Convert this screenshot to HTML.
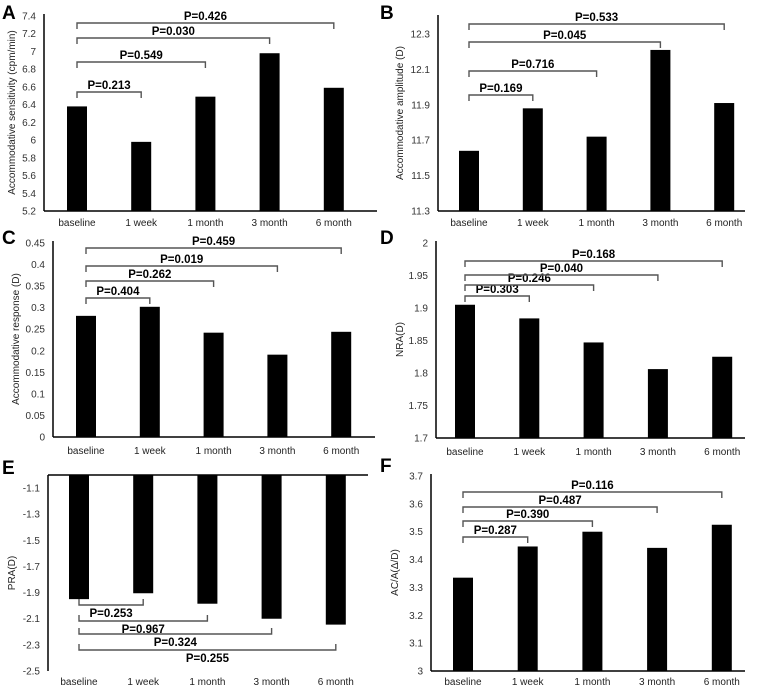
<!DOCTYPE html>
<html><head><meta charset="utf-8"><style>
html,body{margin:0;padding:0;background:#fff;}
svg{display:block;font-family:"Liberation Sans",sans-serif;}
</style></head><body>
<svg id="fig" width="757" height="688" viewBox="0 0 757 688" xmlns="http://www.w3.org/2000/svg"></svg>
<script>
const categories = ["baseline","1 week","1 month","3 month","6 month"];
const valuesA = [6.38, 5.98, 6.49, 6.98, 6.59];
const valuesB = [11.64, 11.88, 11.72, 12.21, 11.91];
const valuesC = [0.281, 0.302, 0.242, 0.191, 0.244];
const valuesD = [1.905, 1.884, 1.847, 1.806, 1.825];
const valuesE = [-1.95, -1.905, -1.985, -2.10, -2.145];
const valuesF = [3.335, 3.447, 3.50, 3.442, 3.525];
const ticksA = ["7.4","7.2","7","6.8","6.6","6.4","6.2","6","5.8","5.6","5.4","5.2"];
const ticksB = ["12.3","12.1","11.9","11.7","11.5","11.3"];
const ticksC = ["0.45","0.4","0.35","0.3","0.25","0.2","0.15","0.1","0.05","0"];
const ticksD = ["2","1.95","1.9","1.85","1.8","1.75","1.7"];
const ticksE = ["-1.1","-1.3","-1.5","-1.7","-1.9","-2.1","-2.3","-2.5"];
const ticksF = ["3.7","3.6","3.5","3.4","3.3","3.2","3.1","3"];
const pA = ["P=0.213","P=0.549","P=0.030","P=0.426"];
const pB = ["P=0.169","P=0.716","P=0.045","P=0.533"];
const pC = ["P=0.404","P=0.262","P=0.019","P=0.459"];
const pD = ["P=0.303","P=0.246","P=0.040","P=0.168"];
const pE = ["P=0.253","P=0.967","P=0.324","P=0.255"];
const pF = ["P=0.287","P=0.390","P=0.487","P=0.116"];

const NS="http://www.w3.org/2000/svg";
const svg=document.getElementById('fig');
function mk(tag,attrs,parent){const e=document.createElementNS(NS,tag);for(const k in attrs)e.setAttribute(k,attrs[k]);(parent||svg).appendChild(e);return e;}

function drawPanel(cfg){
  const g=mk('g',{});
  
  
  const y=v=>cfg.y1+(v-cfg.v1)*(cfg.y0-cfg.y1)/(cfg.v0-cfg.v1);
  const xs=categories.map((c,i)=>cfg.x0+i*cfg.dx);
  const L=mk('text',{x:cfg.lx,y:cfg.ly,'font-size':19,'font-weight':'bold',fill:'#000'},g);L.textContent=cfg.letter;
  
  
  cfg.ticks.forEach(t=>{
    const tt=mk('text',{x:cfg.ax-8,y:y(parseFloat(t))+3.5,'font-size':10,'text-anchor':'end',fill:'#333'},g);tt.textContent=t;
    
    
  });
  const base=cfg.inv?cfg.top:cfg.bottom;
  cfg.values.forEach((v,i)=>{
    const yv=y(v);
    const r=mk('rect',{x:xs[i]-10,y:Math.min(yv,base),width:20,height:Math.abs(base-yv),fill:'#000'},g);
    
    
  });
  const ya=mk('line',{x1:cfg.ax,x2:cfg.ax,y1:cfg.top,y2:cfg.bottom,stroke:'#000','stroke-width':1.5},g);
  
  
  const xa=mk('line',{x1:cfg.ax,x2:cfg.right,y1:base,y2:base,stroke:'#000','stroke-width':1.5},g);
  
  
  categories.forEach((c,i)=>{
    const t=mk('text',{x:xs[i],y:cfg.catY,'font-size':10,'text-anchor':'middle',fill:'#222'},g);t.textContent=c;
    
    
  });
  const yt=mk('text',{x:0,y:0,'font-size':10,'text-anchor':'middle',fill:'#222',transform:`translate(${cfg.tx},${(cfg.top+cfg.bottom)/2}) rotate(-90)`},g);
  yt.textContent=cfg.title;
  
  
  cfg.pvals.forEach((p,k)=>{
    const by=cfg.by[k], x1=xs[0], x2=xs[k+1], d=cfg.inv?-6:6;
    const pl=mk('polyline',{points:`${x1},${by+d} ${x1},${by} ${x2},${by} ${x2},${by+d}`,fill:'none',stroke:'#555','stroke-width':1.4},g);
    
    
    const t=mk('text',{x:(x1+x2)/2,y:cfg.inv?by+12:by-3,'font-size':11.5,'font-weight':'bold','text-anchor':'middle',fill:'#000'},g);
    t.textContent=p;
    
    
  });
}

drawPanel({letter:'A',lx:2,ly:19,values:valuesA,ticks:ticksA,pvals:pA,v0:7.4,y0:16,v1:5.2,y1:211,top:14,bottom:211,ax:44,right:377,x0:77,dx:64.2,catY:226,tx:15,title:'Accommodative sensitivity (cpm/min)',by:[92,62,38,23]});
drawPanel({letter:'B',lx:380,ly:19,values:valuesB,ticks:ticksB,pvals:pB,v0:12.3,y0:34,v1:11.3,y1:211,top:15,bottom:211,ax:438,right:745,x0:469,dx:63.8,catY:226,tx:403,title:'Accommodative amplitude (D)',by:[95,71,42,24]});
drawPanel({letter:'C',lx:2,ly:244,values:valuesC,ticks:ticksC,pvals:pC,v0:0.45,y0:243,v1:0,y1:437,top:241,bottom:437,ax:53,right:375,x0:86,dx:63.8,catY:454,tx:19,title:'Accommodative response (D)',by:[298,281,266,248]});
drawPanel({letter:'D',lx:380,ly:244,values:valuesD,ticks:ticksD,pvals:pD,v0:2.0,y0:243,v1:1.7,y1:438,top:241,bottom:438,ax:436,right:745,x0:465,dx:64.3,catY:455,tx:403,title:'NRA(D)',by:[296,285,275,261]});
drawPanel({letter:'E',lx:2,ly:474,values:valuesE,ticks:ticksE,pvals:pE,v0:-1.0,y0:475,v1:-2.5,y1:671,top:475,bottom:671,ax:48,right:368,x0:79,dx:64.2,catY:685,tx:15,title:'PRA(D)',inv:true,by:[605,621,634,650]});
drawPanel({letter:'F',lx:380,ly:472,values:valuesF,ticks:ticksF,pvals:pF,v0:3.7,y0:476,v1:3.0,y1:671,top:474,bottom:671,ax:431,right:745,x0:463,dx:64.7,catY:685,tx:398,title:'AC/A(\u0394/D)',by:[537,521,507,492]});
</script>
</body></html>
